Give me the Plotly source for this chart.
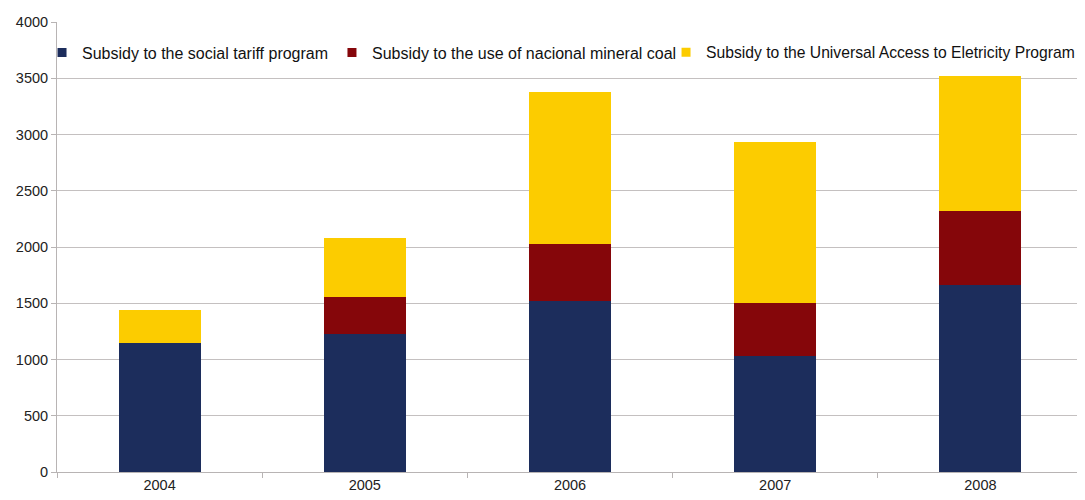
import plotly.graph_objects as go

years = ["2004", "2005", "2006", "2007", "2008"]
social_tariff = [1151, 1225, 1522, 1029, 1662]
mineral_coal = [0, 327, 505, 475, 659]
universal_access = [288, 525, 1347, 1425, 1202]

names = [
    "Subsidy to the social tariff program",
    "Subsidy to the use of nacional mineral coal",
    "Subsidy to the Universal Access to Eletricity Program",
]
colors = ["#1c2d5c", "#85060a", "#fccc00"]
legend_ids = ["legend", "legend2", "legend3"]
legend_x = [-0.0146, 0.268, 0.5936]
legend_font = [16, 16, 15.7]

fig = go.Figure()
for name, vals, col in zip(names, [social_tariff, mineral_coal, universal_access], colors):
    fig.add_trace(go.Bar(x=years, y=vals, name=name, showlegend=False,
                         marker=dict(color=col, line=dict(width=0))))

# legend-only entries with small square markers
for name, col, lid in zip(names, colors, legend_ids):
    fig.add_trace(go.Scatter(x=[years[0]], y=[None], mode="markers", name=name, legend=lid,
                             marker=dict(symbol="square", size=9, color=col), showlegend=True,
                             hoverinfo="skip"))

def legend_cfg(x, fs):
    return dict(
        orientation="h",
        x=x,
        y=0.932,
        xanchor="left",
        yanchor="middle",
        font=dict(size=fs, color="#111111"),
        bgcolor="rgba(0,0,0,0)",
        itemclick=False,
    )

# page body has an 8px default margin; compensate so the plot lands where the reference has it
fig.update_layout(
    barmode="stack",
    bargap=0.6,
    width=1077,
    height=492,
    margin=dict(l=49, r=2, t=14, b=28, autoexpand=False),
    plot_bgcolor="white",
    paper_bgcolor="white",
    font=dict(family="Liberation Sans, Arial, sans-serif", size=14.5, color="#222222"),
    legend=legend_cfg(legend_x[0], legend_font[0]),
    legend2=legend_cfg(legend_x[1], legend_font[1]),
    legend3=legend_cfg(legend_x[2], legend_font[2]),
)
fig.update_yaxes(
    range=[0, 4000],
    dtick=500,
    showgrid=True,
    gridcolor="#c4c0c0",
    gridwidth=1,
    showline=True,
    linecolor="#b8b4b4",
    linewidth=1,
    ticks="outside",
    ticklen=5,
    tickcolor="#b8b4b4",
    zeroline=False,
    automargin=False,
)
fig.update_xaxes(
    range=[-0.5, 4.5],
    showline=True,
    linecolor="#b8b4b4",
    linewidth=1,
    ticks="outside",
    ticklen=5,
    tickcolor="#b8b4b4",
    tickson="boundaries",
    showgrid=False,
    automargin=False,
)

fig.write_html("out.html")
